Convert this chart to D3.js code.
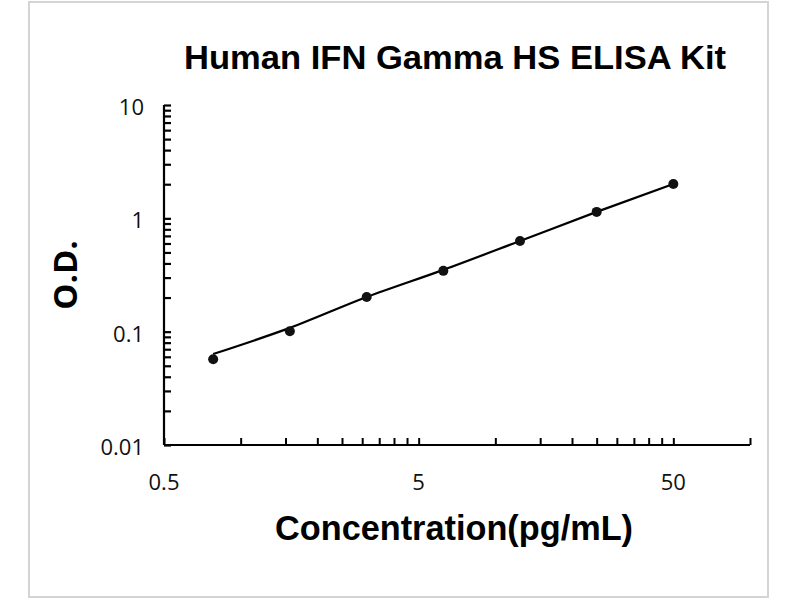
<!DOCTYPE html>
<html>
<head>
<meta charset="utf-8">
<script src="https://cdn.jsdelivr.net/npm/d3@7"></script>
<style>
  body { margin: 0; background: #fff; }
  svg { display: block; }
</style>
</head>
<body>
<div id="chart"></div>
<script>
// Datos
const concentration = [0.78, 1.56, 3.125, 6.25, 12.5, 25, 50];   // pg/mL
const odValues = [0.057, 0.101, 0.202, 0.344, 0.631, 1.14, 2.01];
const fitValues = [0.0635, 0.108, 0.202, 0.351, 0.631, 1.14, 2.01]; // curva ajustada
const xTickLabels = [0.5, 5, 50];
const yTickLabels = [0.01, 0.1, 1, 10];

const W = 800, H = 600;
const plot = { left: 164, right: 750, top: 105, bottom: 445 };

const svg = d3.select("#chart").append("svg")
    .attr("width", W)
    .attr("height", H);

// Marco gris
svg.append("rect")
    .attr("x", 29).attr("y", 2)
    .attr("width", 739).attr("height", 595)
    .attr("fill", "#fff")
    .attr("stroke", "#d4d4d4")
    .attr("stroke-width", 2);

// Escalas logarítmicas
const x = d3.scaleLog().domain([0.5, 100]).range([plot.left, plot.right]);
const y = d3.scaleLog().domain([0.01, 10]).range([plot.bottom, plot.top]);

// Ticks menores (múltiplos de 0.5 en x, de 0.01 en y)
const xMinor = [];
[0.5, 5, 50].forEach(b => { for (let k = 1; k <= 10; k++) { const v = b * k; if (v <= 100) xMinor.push(v); } });
const yMinor = [];
[0.01, 0.1, 1].forEach(b => { for (let k = 1; k <= 10; k++) yMinor.push(b * k); });

// Eje X
const xAxis = svg.append("g")
    .attr("transform", `translate(0,${plot.bottom})`)
    .call(d3.axisBottom(x).tickValues(Array.from(new Set(xMinor.map(v => +v.toFixed(3))))).tickSize(-7).tickFormat(""));
xAxis.select(".domain").attr("d", `M${plot.left},0H${plot.right}`).attr("stroke", "#000").attr("stroke-width", 2.2);
xAxis.selectAll(".tick line").attr("stroke", "#000").attr("stroke-width", 2);

// Eje Y
const yAxis = svg.append("g")
    .attr("transform", `translate(${plot.left},0)`)
    .call(d3.axisLeft(y).tickValues(Array.from(new Set(yMinor.map(v => +v.toPrecision(3))))).tickSize(-7).tickFormat(""));
yAxis.select(".domain").attr("d", `M0,${plot.top}V${plot.bottom}`).attr("stroke", "#000").attr("stroke-width", 2.2);
yAxis.selectAll(".tick line").attr("stroke", "#000").attr("stroke-width", 2.2);

// Etiquetas de ticks
svg.append("g").selectAll("text")
    .data(xTickLabels)
    .enter().append("text")
    .attr("x", d => x(d))
    .attr("y", plot.bottom + 45)
    .attr("text-anchor", "middle")
    .style("font-family", "'Open Sans', 'Noto Sans', sans-serif")
    .style("font-size", "22px")
    .style("fill", "#111")
    .text(d => d);

svg.append("g").selectAll("text")
    .data(yTickLabels)
    .enter().append("text")
    .attr("x", plot.left - 20)
    .attr("y", d => y(d) + 10)
    .attr("text-anchor", "end")
    .style("font-family", "'Open Sans', 'Noto Sans', sans-serif")
    .style("font-size", "22px")
    .style("fill", "#111")
    .text(d => d);

// Curva ajustada
const line = d3.line()
    .x((d, i) => x(concentration[i]))
    .y(d => y(d))
    .curve(d3.curveMonotoneX);

svg.append("path")
    .attr("d", line(fitValues))
    .attr("fill", "none")
    .attr("stroke", "#000")
    .attr("stroke-width", 2.2);

// Puntos
svg.append("g").selectAll("circle")
    .data(odValues)
    .enter().append("circle")
    .attr("cx", (d, i) => x(concentration[i]))
    .attr("cy", d => y(d))
    .attr("r", 5)
    .attr("fill", "#111");

// Título
svg.append("text")
    .attr("x", 455)
    .attr("y", 69)
    .attr("text-anchor", "middle")
    .attr("textLength", 542)
    .attr("lengthAdjust", "spacingAndGlyphs")
    .style("font-family", "'Liberation Sans', Arial, sans-serif")
    .style("font-weight", "bold")
    .style("font-size", "33px")
    .style("fill", "#000")
    .text("Human IFN Gamma HS ELISA Kit");

// Títulos de ejes
svg.append("text")
    .attr("x", 454)
    .attr("y", 540)
    .attr("text-anchor", "middle")
    .attr("textLength", 358)
    .attr("lengthAdjust", "spacingAndGlyphs")
    .style("font-family", "'Liberation Sans', Arial, sans-serif")
    .style("font-weight", "bold")
    .style("font-size", "35px")
    .style("fill", "#000")
    .text("Concentration(pg/mL)");

svg.append("text")
    .attr("transform", "translate(77,275) rotate(-90)")
    .attr("text-anchor", "middle")
    .style("font-family", "'Open Sans', 'Noto Sans', sans-serif")
    .style("font-weight", "bold")
    .style("font-size", "33px")
    .style("fill", "#000")
    .text("O.D.");
</script>
</body>
</html>
